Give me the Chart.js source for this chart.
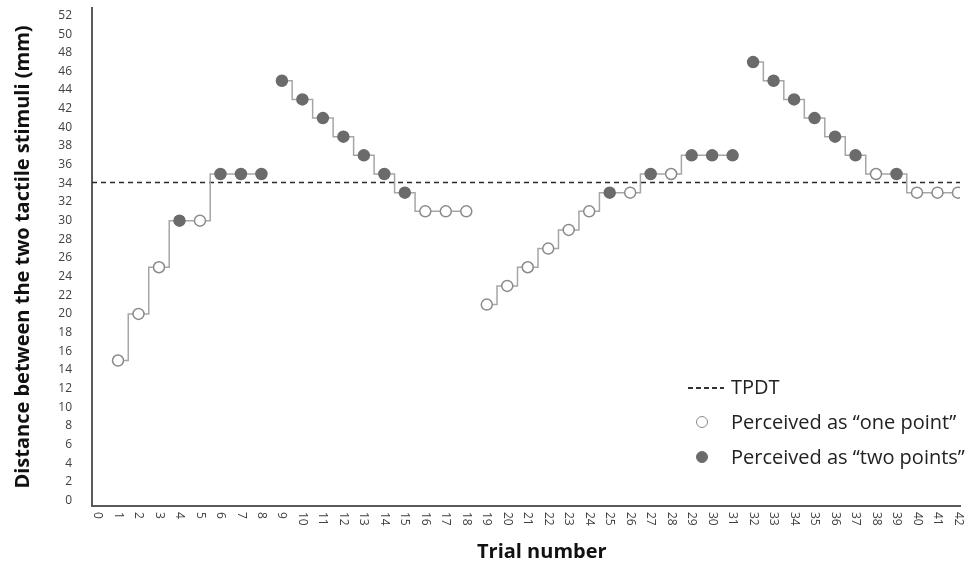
<!DOCTYPE html>
<html>
<head>
<meta charset="utf-8">
<script src="https://cdn.jsdelivr.net/npm/chart.js@4"></script>
<style>
    body { margin: 0; background: #fff; }
    #wrap { position: relative; width: 970px; height: 567px; }
    #legend { position: absolute; left: 686px; top: 372px; font-family: "Open Sans", sans-serif; font-size: 20px; color: #222; }
    #legend .row { position: relative; height: 35px; line-height: 30px; padding-left: 45px; white-space: nowrap; }
    #legend .dash { position: absolute; left: 2px; top: 15px; width: 36px; height: 2px; background: repeating-linear-gradient(90deg, #333 0 5px, transparent 5px 8px); }
    #legend .dot { position: absolute; left: 10px; top: 9px; width: 12px; height: 12px; border-radius: 50%; box-sizing: border-box; }
</style>
</head>
<body>
<div id="wrap">
    <canvas id="myChart"></canvas>
    <div id="legend">
        <div class="row"><span class="dash"></span>TPDT</div>
        <div class="row"><span class="dot" style="background:#fff;border:1.5px solid #8a8a8a"></span>Perceived as “one point”</div>
        <div class="row"><span class="dot" style="background:#6b6b6b;border:1.5px solid #6b6b6b"></span>Perceived as “two points”</div>
    </div>
</div>
<script>
// distance (mm) presented at each trial 1..42
const distances = [
    15, 20, 25, 30, 30, 35, 35, 35,
    45, 43, 41, 39, 37, 35, 33, 31, 31, 31,
    21, 23, 25, 27, 29, 31, 33, 33, 35, 35, 37, 37, 37,
    47, 45, 43, 41, 39, 37, 35, 35, 33, 33, 33
];
// 1 = perceived as "two points", 0 = perceived as "one point"
const responses = [
    0, 0, 0, 1, 0, 1, 1, 1,
    1, 1, 1, 1, 1, 1, 1, 0, 0, 0,
    0, 0, 0, 0, 0, 0, 1, 0, 1, 0, 1, 1, 1,
    1, 1, 1, 1, 1, 1, 0, 1, 0, 0, 0
];
// trials where a new series starts (line is broken before them)
const seriesStarts = [9, 19, 32];
const tpdt = 34.1;
const xTicks = Array.from({ length: 43 }, (_, i) => i);
const yTicks = Array.from({ length: 27 }, (_, i) => i * 2);

const stepData = [];
const pointFill = [];
const pointLine = [];
distances.forEach((d, i) => {
    const trial = i + 1;
    if (seriesStarts.includes(trial)) {
        stepData.push({ x: trial - 0.5, y: null });
        pointFill.push('#fff');
        pointLine.push('#fff');
    }
    stepData.push({ x: trial, y: d });
    pointFill.push(responses[i] ? '#6b6b6b' : '#ffffff');
    pointLine.push(responses[i] ? '#6b6b6b' : '#8a8a8a');
});

const X_MIN = -0.27, X_MAX = 42.1;

// x tick labels read top-to-bottom, plus the x title
const xLabelsPlugin = {
    id: 'xLabels',
    afterDraw(chart) {
        const ctx = chart.ctx;
        const xScale = chart.scales.x;
        const top = chart.chartArea.bottom + 6;
        ctx.save();
        ctx.font = '12px "Open Sans", sans-serif';
        ctx.fillStyle = '#404040';
        ctx.textAlign = 'left';
        ctx.textBaseline = 'middle';
        xTicks.forEach(t => {
            ctx.save();
            ctx.translate(xScale.getPixelForValue(t), top);
            ctx.rotate(Math.PI / 2);
            ctx.fillText(String(t), 0, 0);
            ctx.restore();
        });
        ctx.font = 'bold 20px "Open Sans", sans-serif';
        ctx.fillStyle = '#111';
        ctx.textAlign = 'center';
        ctx.fillText('Trial number', xScale.getPixelForValue(21.1) + 12, 552);
        ctx.restore();
    }
};

new Chart(document.getElementById('myChart'), {
    type: 'line',
    data: {
        datasets: [
            {
                label: 'TPDT',
                data: [{ x: X_MIN, y: tpdt }, { x: X_MAX, y: tpdt }],
                borderColor: '#2a2a2a',
                borderWidth: 1.5,
                borderDash: [5, 4],
                pointRadius: 0,
                order: 2
            },
            {
                label: 'Distance',
                data: stepData,
                stepped: 'middle',
                spanGaps: false,
                borderColor: '#a6a6a6',
                borderWidth: 1.5,
                pointRadius: 5.5,
                pointBorderWidth: 1.5,
                pointBackgroundColor: pointFill,
                pointBorderColor: pointLine,
                order: 1
            }
        ]
    },
    options: {
        responsive: true,
        maintainAspectRatio: false,
        animation: false,
        devicePixelRatio: 1,
        layout: { padding: { top: 8, right: 10, left: 0, bottom: 0 } },
        plugins: {
            legend: { display: false },
            tooltip: { enabled: false }
        },
        scales: {
            x: {
                type: 'linear',
                min: X_MIN,
                max: X_MAX,
                grid: { display: false },
                border: { color: '#5a5a5a', width: 2 },
                ticks: { display: false },
                afterFit: s => { s.height = 61; }
            },
            y: {
                min: -0.6,
                max: 52.8,
                grid: { display: false },
                border: { color: '#5a5a5a', width: 2 },
                afterBuildTicks: s => { s.ticks = yTicks.map(v => ({ value: v })); },
                afterFit: s => { s.width = 92; s.paddingTop = 0; s.paddingBottom = 0; },
                ticks: {
                    font: { family: '"Open Sans", sans-serif', size: 12 },
                    color: '#404040',
                    padding: 12
                },
                title: {
                    display: true,
                    text: 'Distance between the two tactile stimuli (mm)',
                    font: { family: '"Open Sans", sans-serif', size: 20, weight: 'bold' },
                    color: '#111',
                    padding: { top: 11, bottom: 0 }
                }
            }
        }
    },
    plugins: [xLabelsPlugin]
});
</script>
</body>
</html>
